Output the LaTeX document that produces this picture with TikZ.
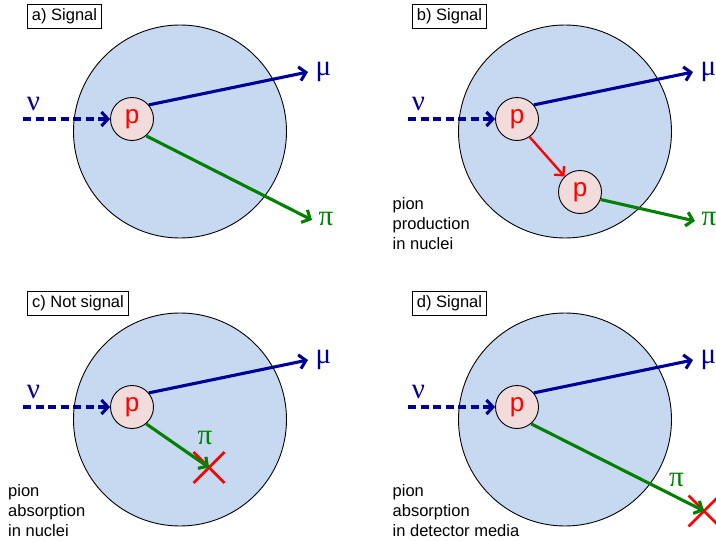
\documentclass[tikz,border=0pt]{standalone}
\usepackage{fontspec}
\setmainfont{Liberation Sans}
\newfontfamily\greekfont{Liberation Serif}
\usetikzlibrary{arrows.meta, shapes.misc, positioning}
\definecolor{nucblue}{RGB}{198,217,240}
\definecolor{protpink}{RGB}{242,220,219}
\definecolor{navy}{RGB}{0,0,150}
\definecolor{pigreen}{RGB}{0,128,0}
\tikzset{
  nucleus/.style={circle, draw=black, fill=nucblue, line width=0.9pt, minimum size=213pt, inner sep=0pt},
  proton/.style={circle, draw=black, fill=protpink, line width=0.9pt, minimum size=43pt, inner sep=0pt,
    text=red, font=\fontsize{26}{26}\selectfont},
  tag/.style={rectangle, draw=black, line width=0.8pt, inner xsep=4.5pt, minimum height=24pt,
    font=\fontsize{16.5}{20}\selectfont},
  remark/.style={align=left, anchor=north west, inner sep=0pt, font=\fontsize{16.5}{20}\selectfont},
  greek/.style={inner sep=0pt, font=\greekfont\fontsize{29}{29}\selectfont},
  track/.style={line width=3.1pt, -{Straight Barb[length=6.5pt, width=14pt]}},
  muon/.style={track, navy},
  pion/.style={track, pigreen},
  incoming/.style={track, navy, dash pattern=on 8pt off 4.5pt},
  rescatter/.style={line width=2.3pt, red, -{Straight Barb[length=6.5pt, width=13pt]}},
  absorbed/.style={cross out, draw=red, line width=2.8pt, minimum size=28pt, inner sep=0pt}
}

\begin{document}
\begin{tikzpicture}[x=1pt, y=-1pt]
  \clip (0,0) rectangle (716,541);
  % a) signal
  \begin{scope}
    \node[tag] (taga) at (64.5,16) {a) Signal};
    \node[nucleus] (nuca) at (180,131.5) {};
    \node[proton] (pa) at (132,119) {p};
    \coordinate (nuina) at (23,119);
    \coordinate (muouta) at (308,72);
    \coordinate (piouta) at (312,220);
    \node[greek, text=navy] (nua) at (33.5,103.5) {ν};
    \node[greek, text=navy] (mua) at (323.5,72) {μ};
    \node[greek, text=pigreen] (pia) at (326,218.5) {π};
    \draw[incoming] (nuina) -- (pa);
    \draw[muon] (pa.40) -- (muouta);
    \draw[pion] (pa.-50) -- (piouta);
  \end{scope}
  % b) signal, pion made inside the nucleus
  \begin{scope}[shift={(385,0)}]
    \node[tag] (tagb) at (64.5,16) {b) Signal};
    \node[nucleus] (nucb) at (180,131.5) {};
    \node[proton] (pb) at (132,119) {p};
    \node[proton] (pbb) at (195,192) {p};
    \coordinate (nuinb) at (23,119);
    \coordinate (muoutb) at (308,72);
    \coordinate (pioutb) at (310,221);
    \node[greek, text=navy] (nub) at (33.5,103.5) {ν};
    \node[greek, text=navy] (mub) at (323.5,72) {μ};
    \node[greek, text=pigreen] (pib) at (324,219) {π};
    \draw[incoming] (nuinb) -- (pb);
    \draw[muon] (pb.40) -- (muoutb);
    \draw[rescatter] (pb.-55) -- (pbb.135);
    \draw[pion] (pbb.-20) -- (pioutb);
    \node[remark] (noteb) at (7.5,197.5) {pion\\production\\in nuclei};
  \end{scope}
  % c) not signal, pion absorbed in the nucleus
  \begin{scope}[shift={(0,288)}]
    \node[tag] (tagc) at (78,15) {c) Not signal};
    \node[nucleus] (nucc) at (180,131.5) {};
    \node[proton] (pc) at (132,119) {p};
    \coordinate (nuinc) at (23,119);
    \coordinate (muoutc) at (308,72);
    \node[absorbed] (xc) at (209,179.5) {};
    \node[greek, text=navy] (nuc) at (33.5,103.5) {ν};
    \node[greek, text=navy] (muc) at (323.5,72) {μ};
    \node[greek, text=pigreen] (pic) at (205,149.5) {π};
    \draw[incoming] (nuinc) -- (pc);
    \draw[muon] (pc.40) -- (muoutc);
    \draw[pion] (pc.-50) -- (xc.center);
    \node[remark] (notec) at (8,196.5) {pion\\absorption\\in nuclei};
  \end{scope}
  % d) signal, pion absorbed in the detector
  \begin{scope}[shift={(385,288)}]
    \node[tag] (tagd) at (64.5,15) {d) Signal};
    \node[nucleus] (nucd) at (180,131.5) {};
    \node[proton] (pd) at (132,119) {p};
    \coordinate (nuind) at (23,119);
    \coordinate (muoutd) at (308,72);
    \node[absorbed] (xd) at (319,223) {};
    \node[greek, text=navy] (nud) at (33.5,103.5) {ν};
    \node[greek, text=navy] (mud) at (323.5,72) {μ};
    \node[greek, text=pigreen] (pid) at (291.5,192) {π};
    \draw[incoming] (nuind) -- (pd);
    \draw[muon] (pd.40) -- (muoutd);
    \draw[pion] (pd.-50) -- (xd.center);
    \node[remark] (noted) at (7.5,196.5) {pion\\absorption\\in detector media};
  \end{scope}
\end{tikzpicture}
\end{document}
